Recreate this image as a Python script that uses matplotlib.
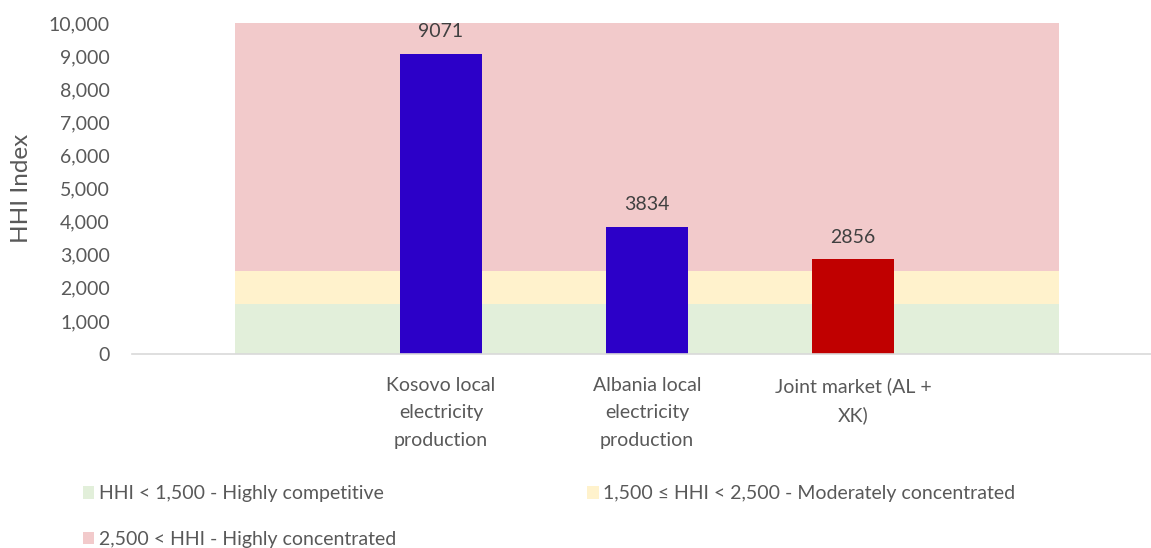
import matplotlib
matplotlib.use('Agg')
import matplotlib.pyplot as plt
from matplotlib.patches import Patch
from matplotlib.ticker import FuncFormatter

plt.rcParams['font.family'] = ['Lato', 'DejaVu Sans']

# categories (first and last are empty slots that carry the background bands)
categories = ['', 'Kosovo local\nelectricity\nproduction', 'Albania local\nelectricity\nproduction',
              'Joint market (AL +\nXK)', '']
hhi_values = [9071, 3834, 2856]
bar_colors = ['#2C00C8', '#2C00C8', '#C00000']

# background bands: stacked area heights
band_labels = ['HHI < 1,500 - Highly competitive',
               '1,500 \u2264 HHI < 2,500 - Moderately concentrated',
               '2,500 < HHI - Highly concentrated']
band_heights = [1500, 1000, 7500]
band_colors = ['#E2EFDA', '#FFF2CC', '#F2CACB']

fig = plt.figure(figsize=(11.51, 5.48), dpi=100)
ax = fig.add_axes([132 / 1151, 194 / 548, 1030 / 1151, 331 / 548])

# bands as stacked area from first to last category
xs = [0, len(categories) - 1]
base = 0
for h, c in zip(band_heights, band_colors):
    ax.fill_between(xs, [base, base], [base + h, base + h], color=c, linewidth=0, zorder=1)
    base += h

bar_x = [1, 2, 3]
bars = ax.bar(bar_x, hhi_values, width=0.4, color=bar_colors, zorder=2)
for x, v in zip(bar_x, hhi_values):
    ax.annotate(str(v), (x, v), xytext=(0, 10), textcoords='offset points',
                ha='center', va='bottom', fontsize=14, color='#404040')

ax.set_xlim(-0.5, len(categories) - 0.5)
ax.set_ylim(0, 10000)
ax.set_yticks(range(0, 10001, 1000))
ax.yaxis.set_major_formatter(FuncFormatter(lambda v, p: f'{int(v):,}'))
ax.set_xticks(range(len(categories)))
ax.set_xticklabels(categories, linespacing=1.75)
ax.tick_params(axis='both', length=0, labelsize=14, colors='#595959')
ax.tick_params(axis='x', pad=16.5)
ax.tick_params(axis='y', pad=16)
for s in ['top', 'right', 'left']:
    ax.spines[s].set_visible(False)
ax.spines['bottom'].set_color('#D9D9D9')
ax.spines['bottom'].set_linewidth(1.2)
ax.set_ylabel('HHI Index', fontsize=17.5, color='#595959')
ax.yaxis.set_label_coords(-0.097, 0.5)

handles = [Patch(facecolor=band_colors[0], label=band_labels[0]),
           Patch(facecolor=band_colors[2], label=band_labels[2]),
           Patch(facecolor=band_colors[1], label=band_labels[1])]
leg = fig.legend(handles=handles, ncol=2, loc='upper left',
                 bbox_to_anchor=(65 / 1151, 1 - 468 / 548), frameon=False,
                 fontsize=14, handlelength=0.6, handleheight=0.6, handletextpad=0.25,
                 columnspacing=9.8, labelspacing=1.45, labelcolor='#595959')

fig.savefig('out.png', dpi=100)
